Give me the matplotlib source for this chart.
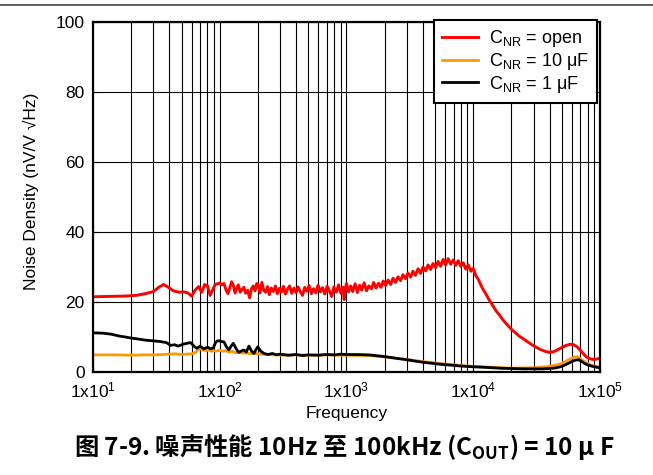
import matplotlib
matplotlib.use('Agg')
import matplotlib.pyplot as plt
from matplotlib.lines import Line2D
from matplotlib.ticker import FixedLocator, LogLocator, NullFormatter

plt.rcParams['font.family'] = ['Liberation Sans', 'DejaVu Sans']
plt.rcParams['mathtext.default'] = 'regular'

# C_NR = open
red_freq = [10, 14, 18, 22, 26, 30, 33, 36, 39, 43, 48, 52, 56, 60, 64, 68, 72, 76, 80, 84,
            88, 92, 96, 100, 104, 108, 112, 116, 120, 124, 128, 132, 136, 140, 145, 150, 155,
            160, 166, 172, 178, 184, 190, 196, 202, 208, 215, 222, 230, 238, 246, 255, 265,
            275, 285, 296, 307, 318, 330, 343, 356, 370, 385, 400, 415, 432, 450, 468, 487,
            507, 528, 550, 573, 597, 622, 648, 675, 703, 733, 764, 796, 830, 865, 902, 940,
            958, 980, 1000, 1040, 1080, 1120, 1170, 1220, 1270, 1320, 1380, 1440, 1500, 1570,
            1640, 1710, 1790, 1870, 1950, 2040, 2130, 2230, 2330, 2440, 2550, 2670, 2790, 2920,
            3060, 3200, 3350, 3500, 3670, 3840, 4020, 4210, 4400, 4610, 4820, 5050, 5280, 5530,
            5790, 6060, 6340, 6640, 6950, 7270, 7610, 7970, 8340, 8730, 9140, 9570, 10000,
            10500, 11000, 11500, 12000, 12600, 13200, 13800, 14500, 15200, 16000, 17000, 18000,
            19000, 20000, 21500, 23000, 25000, 27000, 29000, 31000, 34000, 37000, 40000, 43000,
            46000, 50000, 54000, 58000, 62000, 66000, 70000, 74000, 78000, 83000, 88000, 94000,
            100000]
red_val = [21.5, 21.6, 21.7, 21.9, 22.4, 23.0, 24.2, 25.0, 24.3, 23.2, 22.8, 22.9, 22.6, 21.7,
           23.4, 24.4, 22.8, 25.0, 24.6, 21.9, 23.5, 25.0, 25.2, 25.4, 24.9, 25.3, 23.5, 22.4,
           24.0, 25.8, 24.8, 22.6, 23.8, 24.9, 22.8, 23.6, 24.2, 22.5, 23.4, 21.2, 23.8, 24.6,
           23.2, 25.3, 24.8, 22.6, 25.6, 23.4, 22.8, 24.4, 22.1, 24.0, 23.0, 24.6, 22.4, 23.9,
           22.8, 24.5, 22.3, 23.7, 24.6, 22.5, 24.0, 22.7, 24.3, 23.0, 21.9, 24.2, 23.1, 24.7,
           22.4, 23.8, 22.6, 24.8, 22.9, 24.1, 22.3, 24.5, 23.2, 21.6, 24.3, 22.8, 24.9, 22.5,
           24.2, 20.7, 23.8, 25.3, 22.9, 24.6, 23.0, 25.2, 22.7, 24.8, 23.4, 25.5, 23.2, 24.6,
           23.8, 25.6, 24.0, 25.4, 24.2, 26.0, 24.7, 26.3, 25.0, 26.8, 25.6, 27.2, 26.1, 27.8,
           26.7, 28.3, 27.1, 28.8, 27.6, 29.5, 28.2, 30.0, 28.9, 30.6, 29.3, 31.0, 29.8, 31.6,
           30.2, 32.2, 30.6, 32.4, 30.8, 32.0, 30.5, 31.8, 30.2, 31.2, 29.4, 30.6, 28.8, 29.6,
           27.5, 26.4, 24.8, 23.5, 22.3, 20.9, 19.8, 18.6, 17.4, 16.4, 15.1, 14.0, 13.1, 12.2,
           11.2, 10.3, 9.4, 8.6, 7.8, 7.2, 6.4, 5.9, 5.6, 5.8, 6.3, 7.0, 7.6, 7.9, 7.8, 7.2,
           6.2, 5.2, 4.3, 3.8, 3.6, 3.7, 3.9]

# C_NR = 10 uF
orange_freq = [10, 15, 20, 25, 30, 35, 40, 45, 50, 55, 60, 64, 67, 70, 74, 78, 82, 86, 90, 95,
               100, 106, 112, 118, 125, 133, 142, 150, 160, 175, 190, 210, 240, 280, 330, 400,
               500, 700, 1000, 1500, 2000, 3000, 4000, 6000, 10000, 15000, 20000, 30000, 40000,
               50000, 56000, 62000, 66000, 70000, 75000, 80000, 90000, 100000]
orange_val = [4.9, 4.9, 4.8, 4.9, 4.9, 5.0, 5.1, 5.2, 5.0, 5.1, 5.2, 5.5, 6.2, 6.6, 6.4, 6.0,
              6.5, 5.9, 6.1, 6.0, 6.2, 5.9, 6.1, 5.7, 5.9, 5.5, 5.6, 5.4, 5.5, 5.2, 5.3, 5.1,
              5.0, 4.9, 4.8, 4.9, 4.8, 4.9, 4.8, 4.7, 4.3, 3.6, 3.0, 2.3, 1.6, 1.3, 1.1, 1.2,
              1.6, 2.4, 3.4, 4.2, 4.4, 3.8, 3.0, 2.4, 1.7, 1.3]

# C_NR = 1 uF
black_freq = [10, 12, 14, 16, 18, 20, 23, 26, 30, 34, 38, 41, 44, 47, 51, 55, 59, 63, 66, 70,
              75, 80, 85, 89, 93, 96, 100, 104, 108, 113, 118, 123, 128, 134, 141, 148, 155,
              162, 170, 178, 186, 194, 200, 210, 224, 240, 260, 280, 300, 350, 400, 450, 500,
              600, 700, 800, 900, 1000, 1200, 1500, 1800, 2100, 2500, 3000, 3500, 4000, 4700,
              5500, 6500, 8000, 10000, 13000, 16000, 20000, 25000, 30000, 35000, 40000, 45000,
              50000, 55000, 60000, 64000, 68000, 72000, 76000, 80000, 90000, 100000]
black_val = [11.2, 11.1, 10.8, 10.3, 10.0, 9.7, 9.4, 9.1, 8.9, 8.7, 8.4, 7.6, 7.8, 7.4, 7.9,
             8.2, 8.4, 7.3, 6.8, 7.4, 6.6, 7.1, 6.6, 6.9, 8.5, 8.9, 8.9, 8.7, 8.6, 7.2, 6.3,
             7.4, 8.2, 6.8, 5.6, 6.0, 6.3, 5.7, 7.4, 6.0, 5.3, 6.5, 7.2, 6.0, 5.3, 5.0, 5.3,
             4.9, 5.1, 4.8, 5.0, 4.7, 4.9, 4.8, 5.0, 4.9, 5.1, 5.0, 5.0, 4.9, 4.6, 4.3, 3.9,
             3.5, 3.1, 2.8, 2.5, 2.2, 2.0, 1.7, 1.5, 1.3, 1.1, 1.0, 0.9, 0.9, 0.9, 1.0, 1.2,
             1.6, 2.3, 3.0, 3.4, 3.5, 3.0, 2.4, 2.0, 1.5, 1.2]

x_ticks = [10, 100, 1000, 10000, 100000]
x_labels = ['1x10$^{1}$', '1x10$^{2}$', '1x10$^{3}$', '1x10$^{4}$', '1x10$^{5}$']
y_ticks = [0, 20, 40, 60, 80, 100]

fig = plt.figure(figsize=(6.53, 4.75), dpi=100)
ax = fig.add_axes([0.1424, 0.2168, 0.7764, 0.7368])

ax.plot(red_freq, red_val, color='#ff0000', lw=2.1, label='C$_{NR}$ = open')
ax.plot(orange_freq, orange_val, color='#ff9900', lw=2.0, label='C$_{NR}$ = 10 μF')
ax.plot(black_freq, black_val, color='black', lw=2.0, label='C$_{NR}$ = 1 μF')

ax.set_xscale('log')
ax.set_xlim(10, 100000)
ax.set_ylim(0, 100)
ax.xaxis.set_major_locator(FixedLocator(x_ticks))
ax.set_xticklabels(x_labels)
ax.xaxis.set_minor_locator(LogLocator(base=10, subs=range(2, 10)))
ax.xaxis.set_minor_formatter(NullFormatter())
ax.set_yticks(y_ticks)

ax.grid(True, which='major', color='black', lw=0.8)
ax.grid(True, which='minor', axis='x', color='black', lw=0.8)
ax.set_axisbelow(True)
ax.tick_params(which='both', direction='in', labelsize=12.5, pad=6)
ax.tick_params(which='minor', length=3)
for sp in ax.spines.values():
    sp.set_linewidth(1.6)

ax.set_xlabel('Frequency', fontsize=12.5, labelpad=4)
ax.set_ylabel('Noise Density (nV/V √Hz)', fontsize=12.5)
ax.yaxis.set_label_coords(-0.106, 0.517)

leg = ax.legend(loc='upper right', bbox_to_anchor=(0.995, 1.006), fontsize=13,
                fancybox=False, framealpha=1, edgecolor='black', borderaxespad=0,
                handlelength=2.0, handletextpad=0.6, labelspacing=0.1, borderpad=0.45)
leg.get_frame().set_linewidth(1.5)

# separator line at the top of the figure
fig.add_artist(Line2D([0, 1], [1 - 5 / 475, 1 - 5 / 475], color='#444444', lw=1.2))

fig.text(344 / 653, 1 - 447 / 475, '图 7-9. 噪声性能 10Hz 至 100kHz (C$_{OUT}$) = 10 μ F',
         ha='center', va='center', fontsize=17.5, fontweight='bold',
         family='Noto Sans CJK SC')

plt.savefig('out.png', dpi=100)
